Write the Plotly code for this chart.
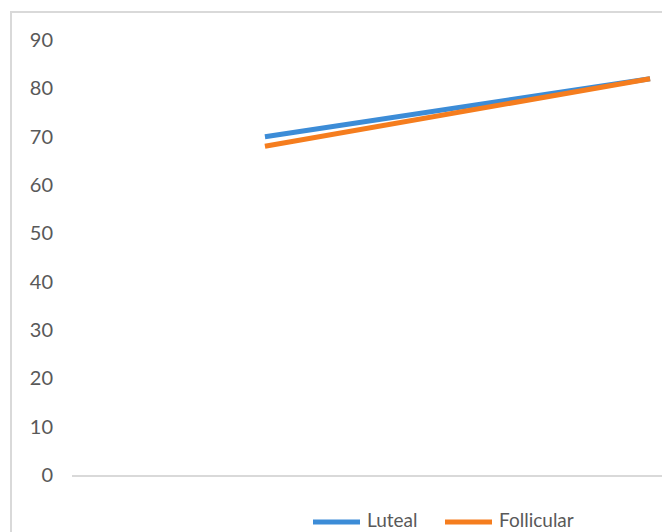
import plotly.graph_objects as go

# Two measurement points per phase
x_points = [0, 1]
luteal = [70, 82]
follicular = [68, 82]
y_ticks = [0, 10, 20, 30, 40, 50, 60, 70, 80, 90]
series_names = ["Luteal", "Follicular"]

BLUE = "rgb(60,140,215)"
ORANGE = "rgb(245,125,30)"
GRAY_TEXT = "#595959"
GRAY_LINE = "#D9D9D9"
FONT = "Lato, 'Open Sans', sans-serif"

# plot area in pixels: x 72..662, y 40..475
PL, PR, PT, PB = 72, 662, 40, 475


def px_x(p):
    return (p - PL) / (PR - PL)


def px_y(p):
    return (PB - p) / (PB - PT)


fig = go.Figure()
fig.add_trace(go.Scatter(x=x_points, y=luteal, mode="lines", name=series_names[0],
                         line=dict(color=BLUE, width=5), showlegend=False))
fig.add_trace(go.Scatter(x=x_points, y=follicular, mode="lines", name=series_names[1],
                         line=dict(color=ORANGE, width=5), showlegend=False))

# Chart border plus a legend drawn below the plot area
shapes = [dict(type="rect", xref="paper", yref="paper",
               x0=px_x(11), x1=1.3, y0=-0.3, y1=px_y(12),
               line=dict(color=GRAY_LINE, width=2), fillcolor="rgba(0,0,0,0)",
               layer="below")]
annotations = []
for name, color, x0 in zip(series_names, [BLUE, ORANGE], [311, 443]):
    shapes.append(dict(type="line", xref="paper", yref="paper",
                       x0=px_x(x0 + 2), x1=px_x(x0 + 49), y0=px_y(522), y1=px_y(522),
                       line=dict(color=color, width=5)))
    annotations.append(dict(xref="paper", yref="paper", x=px_x(x0 + 54), y=px_y(519),
                            xanchor="left", yanchor="middle", text=name, showarrow=False,
                            font=dict(family=FONT, size=19, color=GRAY_TEXT)))

fig.update_layout(
    width=662, height=532,
    margin=dict(l=PL, r=662 - PR, t=PT, b=532 - PB),
    paper_bgcolor="white", plot_bgcolor="white",
    font=dict(family=FONT, size=20, color=GRAY_TEXT),
    showlegend=False,
    xaxis=dict(range=[-0.501, 1.031], showgrid=False, zeroline=False,
               showticklabels=False, ticks="", showline=True,
               linecolor=GRAY_LINE, linewidth=1.5, fixedrange=True),
    yaxis=dict(range=[0, 90], tickvals=y_ticks, showgrid=False, zeroline=False,
               showline=False, ticks="", ticklabelstandoff=18,
               tickfont=dict(family=FONT, size=20, color=GRAY_TEXT)),
    shapes=shapes,
    annotations=annotations,
)

fig.write_html("out.html")
